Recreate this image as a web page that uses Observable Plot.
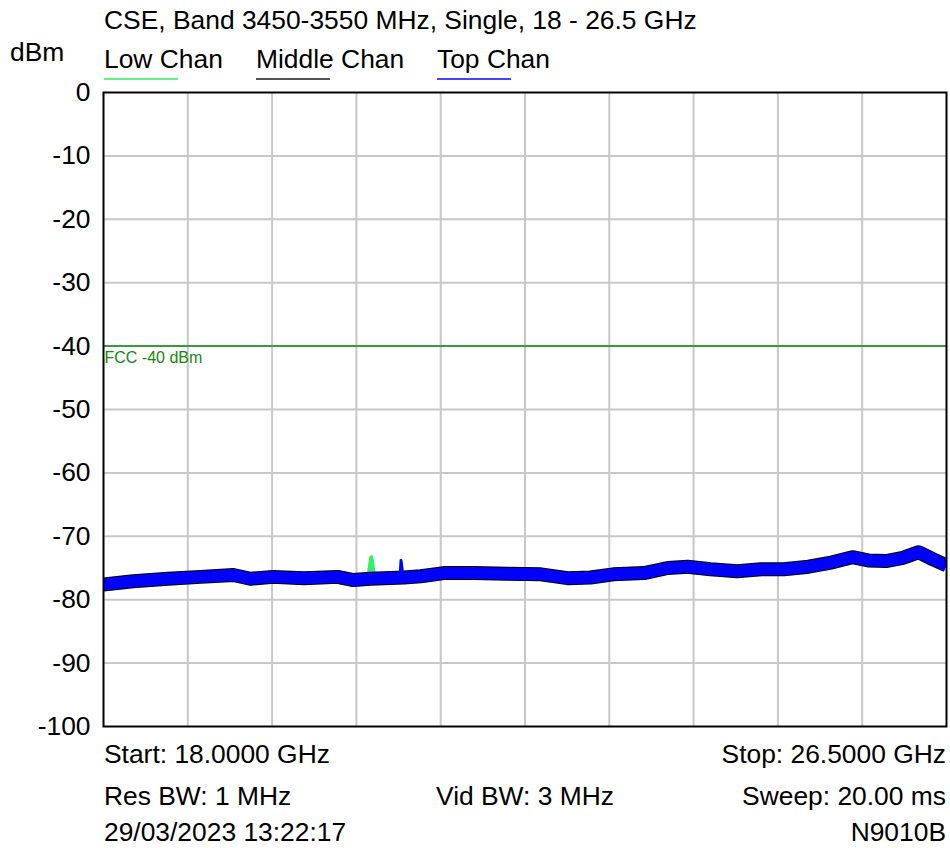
<!DOCTYPE html>
<html>
<head>
<meta charset="utf-8">
<script src="https://cdn.jsdelivr.net/npm/d3@7"></script>
<script src="https://cdn.jsdelivr.net/npm/@observablehq/plot@0.6"></script>
<style>
  html, body { margin: 0; padding: 0; background: #fff; }
  #wrap { position: relative; width: 950px; height: 848px; font-family: "Liberation Sans", Arial, sans-serif; color: #000; }
  #wrap svg { position: absolute; left: 0; top: 0; }
  .t { position: absolute; font-size: 26.4px; line-height: 1; white-space: nowrap; }
  .u { position: absolute; height: 2px; width: 74px; }
</style>
</head>
<body>
<div id="wrap"></div>
<script>
// ---- data ----
const title = "CSE, Band 3450-3550 MHz, Single, 18 - 26.5 GHz";
const yUnit = "dBm";
const seriesNames = ["Low Chan", "Middle Chan", "Top Chan"];
const seriesColors = ["#66ee88", "#555555", "#4444ff"];

const xTicks = [18, 18.85, 19.7, 20.55, 21.4, 22.25, 23.1, 23.95, 24.8, 25.65, 26.5];
const yTicks = [0, -10, -20, -30, -40, -50, -60, -70, -80, -90, -100];

// trace centre (GHz, dBm)
const traceFreq = [18.00, 18.30, 18.65, 18.98, 19.31, 19.48, 19.71, 20.02, 20.36, 20.52, 20.69, 21.03,
  21.20, 21.43, 21.73, 22.07, 22.41, 22.68, 22.91, 23.14, 23.45, 23.69, 23.89, 24.12, 24.39, 24.63,
  24.86, 25.11, 25.35, 25.55, 25.71, 25.89, 26.06, 26.22, 26.36, 26.50];
const traceLevel = [-77.6, -77.1, -76.7, -76.4, -76.1, -76.7, -76.4, -76.6, -76.4, -76.9, -76.7, -76.5,
  -76.3, -75.8, -75.8, -75.9, -76.0, -76.6, -76.5, -76.0, -75.8, -75.0, -74.8, -75.2, -75.5, -75.2,
  -75.2, -74.8, -74.1, -73.3, -73.8, -73.9, -73.4, -72.5, -73.6, -74.6];

// narrow spurs
const lowSpurFreq = [20.67, 20.70, 20.73];
const lowSpurLevel = [-76.4, -73.3, -76.4];
const topSpurFreq = [20.99, 21.00, 21.02];
const topSpurLevel = [-76.4, -73.8, -76.4];

const limitLevel = -40;
const limitLabel = "FCC -40 dBm";

const footer = [
  ["Start: 18.0000 GHz", "", "Stop: 26.5000 GHz"],
  ["Res BW: 1 MHz", "Vid BW: 3 MHz", "Sweep: 20.00 ms"],
  ["29/03/2023 13:22:17", "", "N9010B"]
];

// ---- build ----
const trace = traceFreq.map((f, i) => ({f, v: traceLevel[i]}));
const lowSpur = lowSpurFreq.map((f, i) => ({f, v: lowSpurLevel[i]}));
const topSpur = topSpurFreq.map((f, i) => ({f, v: topSpurLevel[i]}));

const chart = Plot.plot({
  width: 950,
  height: 848,
  marginTop: 92,
  marginLeft: 103,
  marginRight: 4,
  marginBottom: 122,
  style: {fontFamily: "'Liberation Sans', Arial, sans-serif", fontSize: "26px", color: "#000", background: "transparent"},
  x: {domain: [18, 26.5], axis: null},
  y: {domain: [-100, 0], axis: null},
  marks: [
    Plot.gridX(xTicks.slice(1, -1), {stroke: "#c8c8c8", strokeOpacity: 1, strokeWidth: 2}),
    Plot.gridY(yTicks.slice(1, -1), {stroke: "#c8c8c8", strokeOpacity: 1, strokeWidth: 2}),
    Plot.axisY(yTicks, {tickSize: 0, tickPadding: 13, label: null, fontSize: 26.4, fill: "#000",
      tickFormat: d => d === 0 ? "0" : String(d).replace("−", "-")}),
    Plot.ruleY([limitLevel], {stroke: "#118811", strokeWidth: 1.5}),
    Plot.text([limitLabel], {frameAnchor: "left", x: 18, y: limitLevel, dy: 12, dx: 1, fill: "#118811",
      fontSize: 16, textAnchor: "start"}),
    Plot.line(lowSpur, {x: "f", y: "v", stroke: "#33ee66", strokeWidth: 4, clip: true}),
    Plot.line(trace, {x: "f", y: "v", stroke: "#000", strokeWidth: 14, strokeLinecap: "butt", clip: true}),
    Plot.line(trace, {x: "f", y: "v", stroke: "#0000ff", strokeWidth: 12, strokeLinecap: "butt", clip: true}),
    Plot.line(topSpur, {x: "f", y: "v", stroke: "#0000ff", strokeWidth: 3, clip: true}),
    Plot.frame({stroke: "#000", strokeWidth: 2})
  ]
});

const wrap = document.getElementById("wrap");
wrap.appendChild(chart);

function addText(txt, left, top, opts = {}) {
  const d = document.createElement("div");
  d.className = "t";
  d.textContent = txt;
  if (left != null) d.style.left = left + "px";
  if (opts.right != null) d.style.right = opts.right + "px";
  d.style.top = top + "px";
  wrap.appendChild(d);
  return d;
}
addText(title, 104, 7);
addText(yUnit, 10, 39);
const legendX = [104, 256, 437];
seriesNames.forEach((n, i) => {
  addText(n, legendX[i], 46);
  const u = document.createElement("div");
  u.className = "u";
  u.style.left = legendX[i] + "px";
  u.style.top = "78px";
  u.style.background = seriesColors[i];
  wrap.appendChild(u);
});
const rowTop = [741, 783, 819];
footer.forEach((row, r) => {
  if (row[0]) addText(row[0], 104, rowTop[r]);
  if (row[1]) addText(row[1], 436, rowTop[r]);
  if (row[2]) addText(row[2], null, rowTop[r], {right: 4});
});
</script>
</body>
</html>
